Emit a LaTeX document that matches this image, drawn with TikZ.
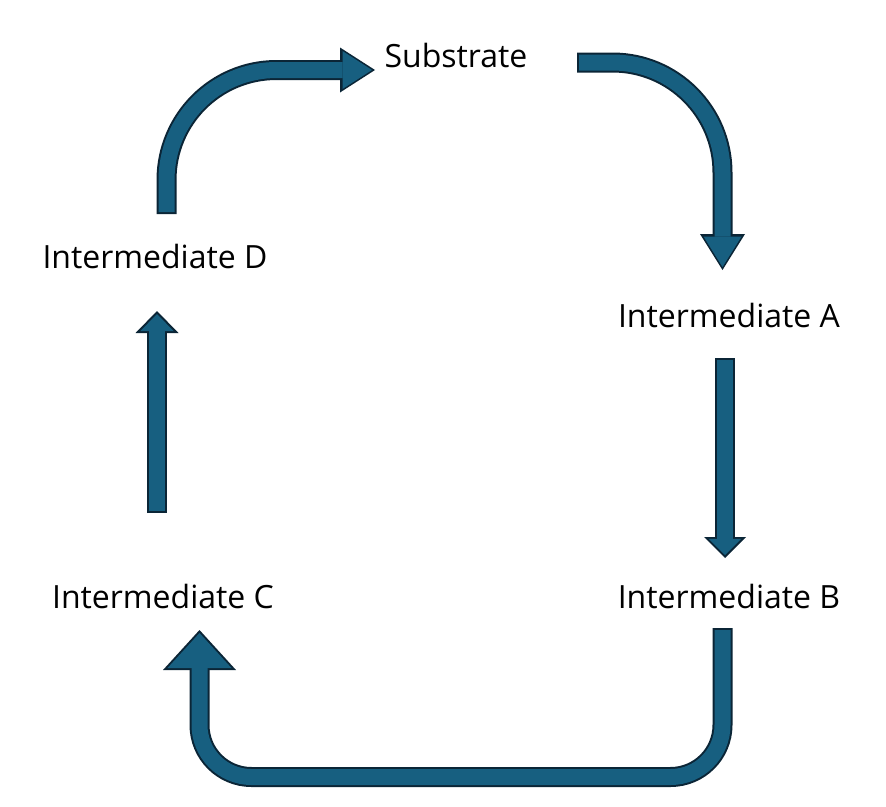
\documentclass[tikz,border=0pt]{standalone}
\usepackage{fontspec}
\setmainfont{Open Sans}
\usetikzlibrary{arrows.meta}

\definecolor{flowfill}{HTML}{175F80}
\definecolor{flowline}{HTML}{0B2536}

\tikzset{
  % block arrow: #1,#2 outer head width/length, #3,#4 inner head width/length
  blockflow/.style n args={4}{draw=flowfill, line width=16pt, shorten >=3pt,
    -{Triangle[width=#3pt, length=#4pt, line width=0pt]},
    preaction={draw=flowline, line width=20pt, shorten <=-2pt, shorten >=0pt,
      -{Triangle[width=#1pt, length=#2pt, line width=0pt]}}},
  species/.style={font=\fontsize{32}{38}\selectfont, inner sep=0pt, anchor=base}
}

\begin{document}
\begin{tikzpicture}[x=1pt, y=-1pt]
    \useasboundingbox (0,0) rectangle (886,806);

    % species
    \node[species] (sub) at (456,67) {Substrate};
    \node[species] (intA) at (729,327) {Intermediate A};
    \node[species] (intB) at (729,608) {Intermediate B};
    \node[species] (intC) at (163,608) {Intermediate C};
    \node[species] (intD) at (155,268) {Intermediate D};

    % arrow ends
    \coordinate (sub_in) at (375,70);
    \coordinate (sub_out) at (579,62.5);
    \coordinate (intA_in) at (722.5,270);
    \coordinate (intA_out) at (725,360);
    \coordinate (intB_in) at (725,558);
    \coordinate (intB_out) at (722.5,630);
    \coordinate (intC_in) at (199.5,630);
    \coordinate (intC_out) at (157,511);
    \coordinate (intD_in) at (157,311);
    \coordinate (intD_out) at (166.5,212);

    % cycle
    \draw[blockflow={45}{35}{38}{29.5}, rounded corners=110pt]
      (intD_out) |- (sub_in);
    \draw[blockflow={45}{36}{38}{30.5}, rounded corners=110pt]
      (sub_out) -| (intA_in);
    \draw[blockflow={42}{21}{32.5}{16.2}]
      (intA_out) -- (intB_in);
    \draw[blockflow={73}{40}{64}{35}, rounded corners=52pt]
      (intB_out) |- (450,777) -| (intC_in);
    \draw[blockflow={43}{22}{33.5}{17.2}]
      (intC_out) -- (intD_in);
\end{tikzpicture}
\end{document}
